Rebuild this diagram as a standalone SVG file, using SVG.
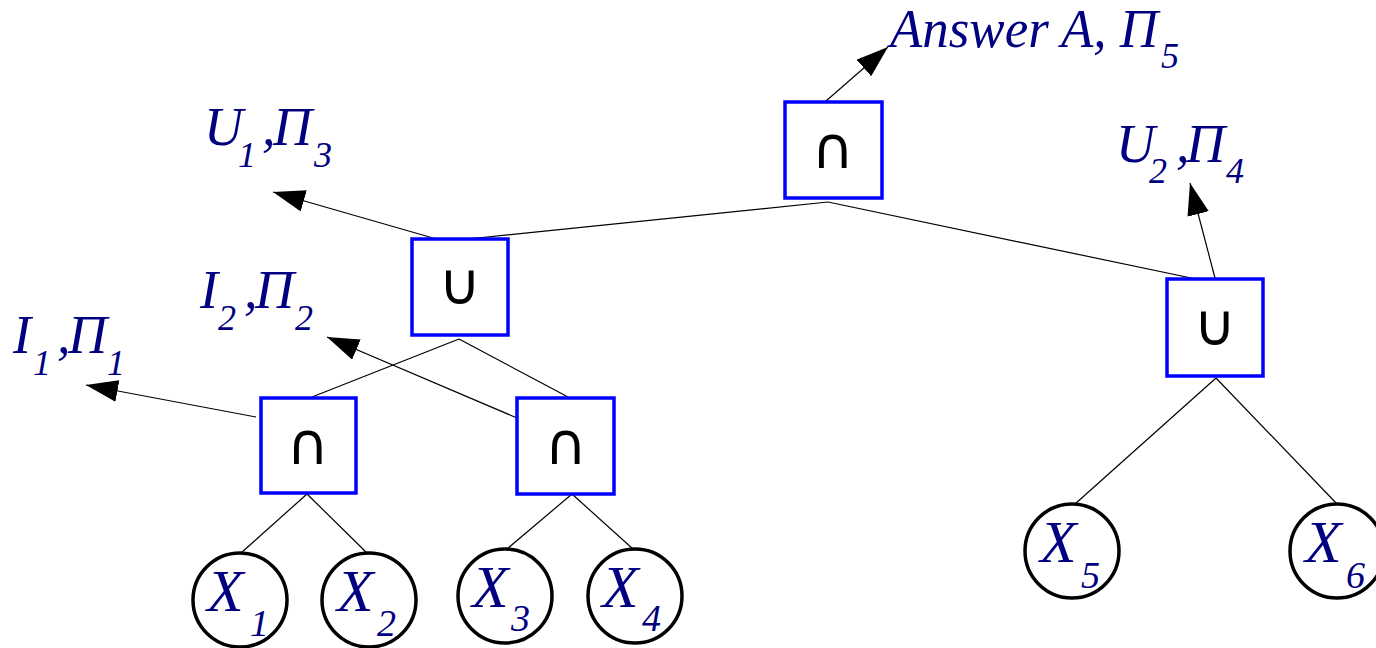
<svg xmlns="http://www.w3.org/2000/svg" width="1376" height="648" viewBox="0 0 1376 648">
  <defs>
    <marker id="arrow" markerUnits="userSpaceOnUse" markerWidth="32" markerHeight="22" viewBox="0 0 32 22" refX="32" refY="11" orient="auto">
      <path d="M0,0 L32,11 L0,22 Z" fill="#000"/>
    </marker>
    <style>
      .op { fill: #fff; stroke: #0000ff; stroke-width: 3.5; }
      .leaf { fill: #fff; stroke: #000; stroke-width: 3.5; }
      .sym { font-family: "DejaVu Sans", sans-serif; font-size: 58px; fill: #000; text-anchor: middle; }
      .lbl { font-family: "Liberation Serif", serif; font-style: italic; fill: #000080; font-size: 54px; }
      .sub { font-size: 36px; }
      .xl { font-family: "Liberation Serif", serif; font-style: italic; fill: #000080; font-size: 60px; }
      .xs { font-size: 38px; }
      .edge { stroke: #000; stroke-width: 1.2; fill: none; }
      .out { stroke: #000; stroke-width: 1.2; fill: none; marker-end: url(#arrow); }
    </style>
  </defs>

  <!-- tree edges and result arrows -->
  <g id="connectors">
    <line class="edge" x1="828" y1="202" x2="468" y2="239"/>
    <line class="edge" x1="828" y1="202" x2="1215" y2="283"/>
    <line class="edge" x1="459" y1="339" x2="312" y2="397"/>
    <line class="edge" x1="459" y1="339" x2="568" y2="397"/>
    <line class="edge" x1="307" y1="494" x2="241" y2="553"/>
    <line class="edge" x1="307" y1="494" x2="367" y2="553"/>
    <line class="edge" x1="572" y1="494" x2="507" y2="549"/>
    <line class="edge" x1="572" y1="494" x2="633" y2="549"/>
    <line class="edge" x1="1216" y1="378" x2="1075" y2="504"/>
    <line class="edge" x1="1216" y1="378" x2="1337" y2="504"/>
    <line class="out" x1="826" y1="101" x2="888" y2="47"/>
    <line class="out" x1="433" y1="238" x2="273" y2="192"/>
    <line class="out" x1="256" y1="417" x2="86" y2="385"/>
    <line class="out" x1="517" y1="418" x2="327" y2="337"/>
    <line class="out" x1="1215" y1="278" x2="1190" y2="183"/>
  </g>

  <!-- operator nodes -->
  <g id="n-root">
    <rect class="op" x="785" y="102" width="97" height="96"/>
    <text class="sym" x="833" y="168">∩</text>
  </g>
  <g id="n-union1">
    <rect class="op" x="412" y="239" width="96" height="96"/>
    <text class="sym" x="460" y="304">∪</text>
  </g>
  <g id="n-inter1">
    <rect class="op" x="261" y="398" width="95" height="95"/>
    <text class="sym" x="308" y="464">∩</text>
  </g>
  <g id="n-inter2">
    <rect class="op" x="517" y="398" width="97" height="96"/>
    <text class="sym" x="566" y="464">∩</text>
  </g>
  <g id="n-union2">
    <rect class="op" x="1167" y="279" width="96" height="97"/>
    <text class="sym" x="1215" y="345">∪</text>
  </g>

  <!-- leaf nodes -->
  <g id="x1">
    <circle class="leaf" cx="240" cy="600" r="47"/>
    <text class="xl"><tspan x="207" y="611">X</tspan><tspan class="xs" x="250" y="636">1</tspan></text>
  </g>
  <g id="x2">
    <circle class="leaf" cx="369" cy="600" r="47"/>
    <text class="xl"><tspan x="337" y="611">X</tspan><tspan class="xs" x="377" y="636">2</tspan></text>
  </g>
  <g id="x3">
    <circle class="leaf" cx="505" cy="596" r="47"/>
    <text class="xl"><tspan x="472" y="607">X</tspan><tspan class="xs" x="511" y="631">3</tspan></text>
  </g>
  <g id="x4">
    <circle class="leaf" cx="635" cy="596" r="47"/>
    <text class="xl"><tspan x="602" y="607">X</tspan><tspan class="xs" x="642" y="631">4</tspan></text>
  </g>
  <g id="x5">
    <circle class="leaf" cx="1072" cy="551" r="47"/>
    <text class="xl"><tspan x="1040" y="562">X</tspan><tspan class="xs" x="1081" y="588">5</tspan></text>
  </g>
  <g id="x6">
    <circle class="leaf" cx="1337" cy="551" r="47"/>
    <text class="xl"><tspan x="1305" y="562">X</tspan><tspan class="xs" x="1346" y="588">6</tspan></text>
  </g>

  <!-- result labels -->
  <g id="lbl-answer">
    <text class="lbl"><tspan x="890" y="47" textLength="268" lengthAdjust="spacingAndGlyphs">Answer A, Π</tspan><tspan class="sub" x="1161" y="68">5</tspan></text>
  </g>
  <g id="lbl-u1">
    <text class="lbl"><tspan x="204" y="145">U</tspan><tspan class="sub" x="238" y="167">1</tspan><tspan x="262" y="145">,</tspan><tspan x="273" y="145">Π</tspan><tspan class="sub" x="314" y="167">3</tspan></text>
  </g>
  <g id="lbl-i2">
    <text class="lbl"><tspan x="200" y="308">I</tspan><tspan class="sub" x="218" y="330">2</tspan><tspan x="244" y="308">,</tspan><tspan x="255" y="308">Π</tspan><tspan class="sub" x="295" y="330">2</tspan></text>
  </g>
  <g id="lbl-i1">
    <text class="lbl"><tspan x="13" y="353">I</tspan><tspan class="sub" x="33" y="375">1</tspan><tspan x="57" y="353">,</tspan><tspan x="68" y="353">Π</tspan><tspan class="sub" x="107" y="375">1</tspan></text>
  </g>
  <g id="lbl-u2">
    <text class="lbl"><tspan x="1116" y="162">U</tspan><tspan class="sub" x="1149" y="183">2</tspan><tspan x="1176" y="162">,</tspan><tspan x="1186" y="162">Π</tspan><tspan class="sub" x="1226" y="183">4</tspan></text>
  </g>
</svg>
